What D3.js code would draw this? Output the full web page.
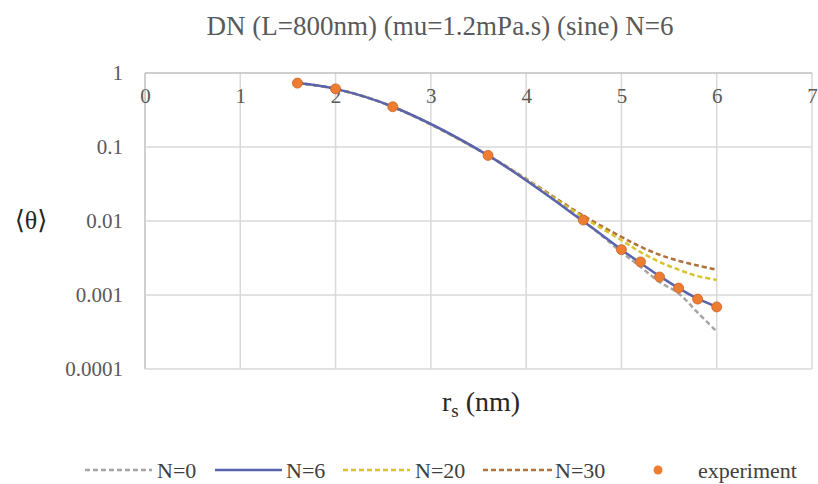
<!DOCTYPE html>
<html><head><meta charset="utf-8">
<script src="https://cdn.jsdelivr.net/npm/d3@7"></script>
<style>body{margin:0;background:#fff;}</style>
</head><body>
<svg id="c" width="818" height="484"></svg>
<script>
const title = "DN (L=800nm) (mu=1.2mPa.s) (sine) N=6";
const xTicks = [0,1,2,3,4,5,6,7];
const yTicks = [1,0.1,0.01,0.001,0.0001];
const yTickLabels = ["1","0.1","0.01","0.001","0.0001"];
const rs = [1.6,2.0,2.6,3.6,4.6,5.0,5.2,5.4,5.6,5.8,6.0];
const n0  = [0.73,0.61,0.35,0.077,0.0100,0.0038,0.0024,0.0015,0.00105,0.00058,0.00032];
const n6  = [0.73,0.61,0.35,0.077,0.0099,0.0041,0.0027,0.0018,0.00124,0.00089,0.00069];
const n20 = [0.73,0.61,0.35,0.077,0.0112,0.0055,0.0038,0.0028,0.0022,0.0018,0.0016];
const n30 = [0.73,0.61,0.35,0.077,0.0118,0.0061,0.0045,0.0035,0.0029,0.0025,0.0022];
const expt= [0.73,0.61,0.35,0.077,0.0103,0.0041,0.0028,0.00175,0.00124,0.00088,0.00069];
const seriesNames = ["N=0","N=6","N=20","N=30","experiment"];

const FONT = '"Liberation Serif","Times New Roman",Tinos,"DejaVu Serif",serif';
const svg = d3.select("#c");
const L=145, R=812, T=73, B=369;
const x = d3.scaleLinear().domain([0,7]).range([L,R]);
const y = d3.scaleLog().domain([0.0001,1]).range([B,T]);

// grid
const g = svg.append("g");
g.selectAll(".vx").data(xTicks).enter().append("line")
  .attr("x1",d=>x(d)).attr("x2",d=>x(d)).attr("y1",T).attr("y2",B)
  .attr("stroke",d=>d===0?"#bfbfbf":"#d9d9d9").attr("stroke-width",1.5);
g.selectAll(".hy").data(yTicks).enter().append("line")
  .attr("x1",L).attr("x2",R).attr("y1",d=>y(d)).attr("y2",d=>y(d))
  .attr("stroke",d=>d===1?"#bfbfbf":"#d9d9d9").attr("stroke-width",1.5);

// x tick labels (axis crosses at top)
const xa = d3.axisBottom(x).tickValues(xTicks).tickFormat(d3.format("d")).tickSize(0).tickPadding(15);
const xg = svg.append("g").attr("transform",`translate(0,${T})`).call(xa).attr("font-family",FONT);
xg.select(".domain").remove();
xg.selectAll("text").attr("font-family",FONT).attr("font-size",21).attr("fill","#595959");

// y tick labels
const ya = d3.axisLeft(y).tickValues(yTicks).tickFormat((d,i)=>yTickLabels[i]).tickSize(0).tickPadding(22);
const yg = svg.append("g").attr("transform",`translate(${L},0)`).call(ya).attr("font-family",FONT);
yg.select(".domain").remove();
yg.selectAll("text").attr("font-family",FONT).attr("font-size",21).attr("fill","#595959");

// title
svg.append("text").attr("x",440).attr("y",35).attr("text-anchor","middle").attr("font-family",FONT)
  .attr("font-size",27).attr("fill","#595959").text(title);

// axis titles
svg.append("text").attr("x",31).attr("y",229).attr("text-anchor","middle").attr("font-family",FONT)
  .attr("font-size",26).attr("fill","#262626").text("\u27E8\u03B8\u27E9");
const xt = svg.append("text").attr("x",481).attr("y",411).attr("text-anchor","middle").attr("font-family",FONT)
  .attr("font-size",28).attr("fill","#262626");
xt.append("tspan").text("r");
xt.append("tspan").attr("font-size",19).attr("dy",6).text("s");
xt.append("tspan").attr("dy",-6).text(" (nm)");

// lines
const line = d3.line().x((d,i)=>x(rs[i])).y(d=>y(d)).curve(d3.curveCatmullRom.alpha(0.5));
const specs = [
  {data:n30, color:"#b0723a", dash:"5,3", w:2.5},
  {data:n20, color:"#d9c22a", dash:"5,3", w:2.5},
  {data:n0,  color:"#a5a5a5", dash:"5,3", w:2.5},
  {data:n6,  color:"#5a64ad", dash:null,  w:2.5}
];
specs.forEach(s=>{
  svg.append("path").datum(s.data).attr("d",line).attr("fill","none")
    .attr("stroke",s.color).attr("stroke-width",s.w)
    .attr("stroke-dasharray",s.dash);
});
svg.selectAll(".pt").data(expt).enter().append("circle")
  .attr("cx",(d,i)=>x(rs[i])).attr("cy",d=>y(d)).attr("r",5)
  .attr("fill","#ed7d31").attr("stroke","#c9622a").attr("stroke-width",0.8);

// legend
const ly = 470;
const leg = [
  {x1:85,x2:152,tx:157,color:"#a5a5a5",dash:"5,3"},
  {x1:215,x2:282,tx:286,color:"#5a64ad",dash:null},
  {x1:343,x2:410,tx:415,color:"#d9c22a",dash:"5,3"},
  {x1:483,x2:552,tx:555,color:"#b0723a",dash:"5,3"}
];
leg.forEach((l,i)=>{
  svg.append("line").attr("x1",l.x1).attr("x2",l.x2).attr("y1",ly).attr("y2",ly)
    .attr("stroke",l.color).attr("stroke-width",2.5).attr("stroke-dasharray",l.dash);
  svg.append("text").attr("x",l.tx).attr("y",ly+8).attr("font-family",FONT).attr("font-size",22).attr("fill","#404040").text(seriesNames[i]);
});
svg.append("circle").attr("cx",658).attr("cy",ly).attr("r",4.5).attr("fill","#ed7d31");
svg.append("text").attr("x",698).attr("y",ly+8).attr("font-family",FONT).attr("font-size",22).attr("fill","#404040").text(seriesNames[4]);
</script>
</body></html>
